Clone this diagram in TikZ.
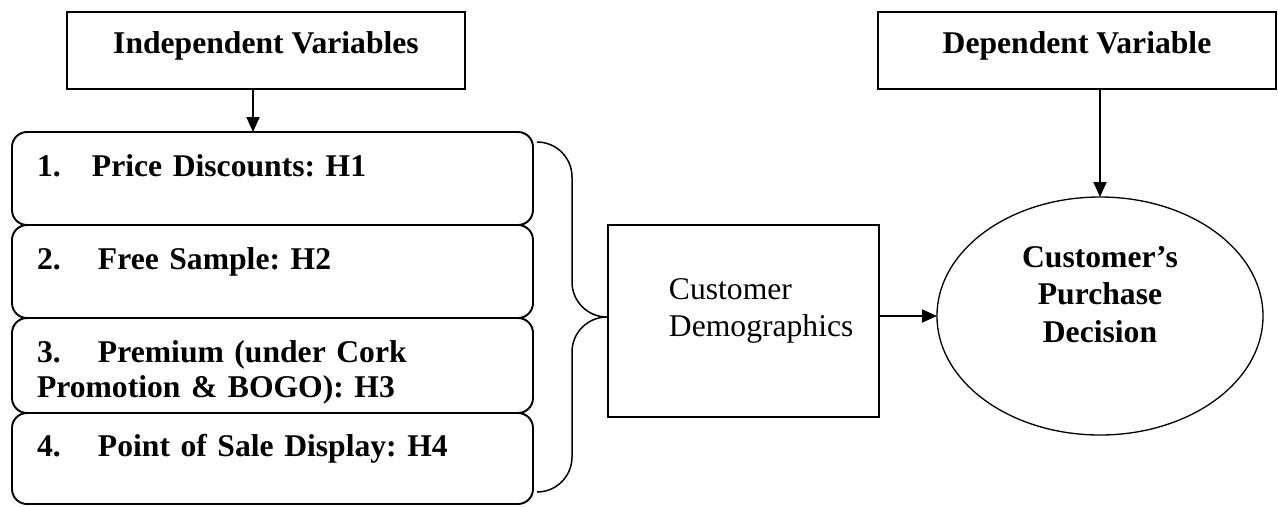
\documentclass[tikz,border=0pt]{standalone}
\usepackage{fontspec}
\setmainfont{Liberation Serif}
\frenchspacing
\usetikzlibrary{arrows.meta,positioning,shapes.geometric}
\tikzset{varbox/.style={draw, line width=1.1pt, minimum width=7.96cm, minimum height=1.54cm,
    inner sep=0pt, outer sep=0pt, text height=0.44cm, text depth=0.34cm,
    font=\bfseries\fontsize{18}{21}\selectfont},
  hypbox/.style={draw, line width=1.1pt, rounded corners=0.3cm, minimum width=10.42cm,
    minimum height=1.86cm, inner sep=0pt, outer sep=0pt, text width=9.42cm, align=left,
    text height=0.44cm, text depth=0.54cm, font=\bfseries\fontsize{18}{20}\selectfont}
}
\newcommand{\hypno}[2][1.22cm]{\makebox[#1][l]{#2}}

\begin{document}
\begin{tikzpicture}[>={Triangle[length=0.3cm,width=0.26cm]}, line width=1.1pt]
   \useasboundingbox (0,0) rectangle (25.56,-10.12);
   \node[varbox] (indep) at (5.32,-1.01) {Independent Variables};
   \node[varbox] (dep) at (21.54,-1.01) {Dependent Variable};

   \node[hypbox] (h1) at (5.45,-3.57) {\hypno[1.1cm]{1.}Price Discounts: H1};
   \node[hypbox, below=0pt of h1] (h2) {\hypno{2.}Free Sample: H2};
   \node[hypbox, below=0pt of h2, minimum height=1.9cm, text depth=0.58cm] (h3)
       {\hypno{3.}Premium (under Cork\\Promotion \& BOGO): H3};
   \node[hypbox, below=0pt of h3, minimum height=1.82cm] (h4) {\hypno{4.}Point of Sale Display: H4};

   \node[draw, minimum width=5.42cm, minimum height=3.84cm, outer sep=0pt] (demo) at (14.87,-6.42) {};
   \node[right=1.2cm of demo.west, yshift=0.2cm, inner sep=0pt, align=left,
       font=\fontsize{18}{21}\selectfont] (demotext) {Customer\\Demographics};
   \node[draw, ellipse, line width=0.75pt, minimum width=6.52cm, minimum height=4.76cm,
       inner sep=0pt, outer sep=0pt, text width=4cm, align=center, text height=0.44cm,
       text depth=2.4cm, font=\bfseries\fontsize{18}{21.5}\selectfont] (ell) at (22,-6.32)
       {Customer’s\\Purchase\\Decision};

   \coordinate (btop) at (10.74,-2.84);
   \draw[line width=0.85pt] (btop) arc[start angle=90,end angle=0,radius=0.7cm] -- ++(0,-2.1)
       arc[start angle=180,end angle=270,radius=0.7cm]
       arc[start angle=90,end angle=180,radius=0.7cm] -- ++(0,-2.1)
       arc[start angle=0,end angle=-90,radius=0.7cm];

   \coordinate (ia) at ([xshift=-0.26cm]indep.south);
   \draw[->] (ia) -- (ia |- h1.north);
   \draw[->] (dep.south -| ell.north) -- (ell.north);
   \draw[->] (demo.east |- ell.west) -- (ell.west);
\end{tikzpicture}
\end{document}
